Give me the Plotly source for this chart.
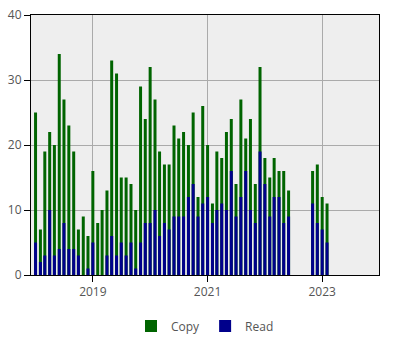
import plotly.graph_objects as go

months = [
    "2018-01", "2018-02", "2018-03", "2018-04", "2018-05", "2018-06", "2018-07", "2018-08",
    "2018-09", "2018-10", "2018-11", "2018-12",
    "2019-01", "2019-02", "2019-03", "2019-04", "2019-05", "2019-06", "2019-07", "2019-08",
    "2019-09", "2019-10", "2019-11", "2019-12",
    "2020-01", "2020-02", "2020-03", "2020-04", "2020-05", "2020-06", "2020-07", "2020-08",
    "2020-09", "2020-10", "2020-11", "2020-12",
    "2021-01", "2021-02", "2021-03", "2021-04", "2021-05", "2021-06", "2021-07", "2021-08",
    "2021-09", "2021-10", "2021-11", "2021-12",
    "2022-01", "2022-02", "2022-03", "2022-04", "2022-05", "2022-06",
    "2022-11", "2022-12", "2023-01", "2023-02",
]
copy_vals = [
    25, 7, 19, 22, 20, 34, 27, 23, 19, 7, 9, 6,
    16, 8, 10, 13, 33, 31, 15, 15, 14, 10, 29, 24,
    32, 27, 19, 17, 17, 23, 21, 22, 20, 25, 12, 26,
    20, 11, 19, 18, 22, 24, 14, 27, 21, 24, 14, 32,
    18, 15, 18, 16, 16, 13,
    16, 17, 12, 11,
]
read_vals = [
    5, 2, 3, 10, 3, 4, 8, 4, 4, 3, 0, 1,
    5, 0, 0, 3, 6, 3, 5, 3, 5, 1, 5, 8,
    8, 10, 6, 8, 7, 9, 9, 9, 12, 14, 9, 11,
    12, 8, 10, 11, 10, 16, 9, 12, 16, 10, 8, 19,
    14, 9, 12, 12, 8, 9,
    11, 8, 7, 5,
]
x_dates = [m + "-01" for m in months]

bar_w = 1.65e9  # ms

fig = go.Figure()
fig.add_trace(go.Bar(x=x_dates, y=copy_vals, name="Copy", marker_color="#006400",
                     marker_line_width=0, width=bar_w))
fig.add_trace(go.Bar(x=x_dates, y=read_vals, name="Read", marker_color="#00008B",
                     marker_line_width=0, width=bar_w))

fig.update_layout(
    width=400, height=350,
    margin=dict(l=31, r=21, t=15, b=75, autoexpand=False),
    barmode="overlay",
    paper_bgcolor="white",
    plot_bgcolor="#eeeeee",
    font=dict(family="Open Sans, sans-serif", size=12, color="#555"),
    showlegend=True,
    legend=dict(orientation="h", x=0.5, xanchor="center", y=-0.196, yanchor="middle",
                font=dict(size=12, color="#555")),
    xaxis=dict(
        type="date",
        range=["2017-12-03", "2023-12-29"],
        dtick="M24", tick0="2019-01-01", tickformat="%Y",
        showgrid=True, gridcolor="#aaaaaa", gridwidth=1,
        showline=True, linecolor="black", linewidth=1, mirror=True,
        ticks="outside", ticklen=6, tickcolor="black",
        zeroline=False,
    ),
    yaxis=dict(
        range=[0, 40], dtick=10,
        showgrid=True, gridcolor="#aaaaaa", gridwidth=1,
        showline=True, linecolor="black", linewidth=1, mirror=True,
        ticks="outside", ticklen=6, tickcolor="black",
        zeroline=False,
    ),
)

fig.write_html("out.html")
